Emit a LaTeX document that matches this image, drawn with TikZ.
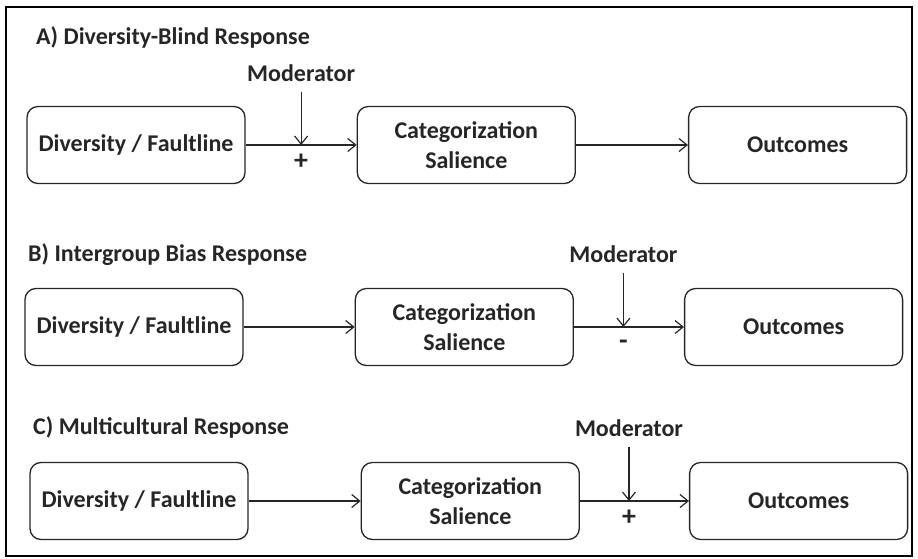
\documentclass[tikz,border=0pt]{standalone}
\usepackage{fontspec}
\setmainfont{Carlito}
\usepackage{tikz}
\usetikzlibrary{arrows.meta,positioning,calc}

\begin{document}
\begin{tikzpicture}[
  x=1pt, y=-1pt,
  box/.style={draw=black!85,line width=1.3pt,rounded corners=11pt,minimum width=218pt,minimum height=77pt,
    align=center,text=black!85,font=\fontsize{24}{30}\selectfont\bfseries},
  title/.style={anchor=west,inner sep=0pt,text=black!85,font=\fontsize{24}{30}\selectfont\bfseries},
  modlbl/.style={anchor=south,inner sep=2pt,text=black!85,font=\fontsize{24}{30}\selectfont\bfseries},
  sign/.style={inner sep=0pt,text=black!85,font=\fontsize{28}{30}\selectfont\bfseries},
  link/.style={-{Straight Barb[length=8pt,width=13pt]},line width=1.2pt,draw=black!85},
  modlink/.style={link,shorten <=8pt},
  frame/.style={draw=black,line width=2pt}
]
  \useasboundingbox (0,0) rectangle (918,559);
  \draw[frame] (6,7) rectangle (912,556);

  % A) diversity-blind
  \node[title] (ttlA) at (36,37) {A) Diversity-Blind Response};
  \node[box] (divA) at (136,145) {Diversity / Faultline};
  \node[box, right=111pt of divA] (catA) {Categorization\\Salience};
  \node[box, right=112pt of catA] (outA) {Outcomes};
  \coordinate (jA) at ($(divA.east)!0.5!(catA.west)$);
  \node[modlbl, above=61pt of jA] (modA) {Moderator};
  \node[sign, below=9pt of jA] (sgnA) {+};
  \draw[link] (divA) -- (catA);
  \draw[link] (catA) -- (outA);
  \draw[modlink] (modA) -- (jA);

  % B) intergroup bias
  \node[title] (ttlB) at (28,255) {B) Intergroup Bias Response};
  \node[box] (divB) at (134,327) {Diversity / Faultline};
  \node[box, right=111pt of divB] (catB) {Categorization\\Salience};
  \node[box, right=110pt of catB] (outB) {Outcomes};
  \coordinate (jB) at ($(catB.east)!0.45!(outB.west)$);
  \node[modlbl, above=62pt of jB] (modB) {Moderator};
  \node[sign, below=13pt of jB] (sgnB) {-};
  \draw[link] (divB) -- (catB);
  \draw[link] (catB) -- (outB);
  \draw[modlink] (modB) -- (jB);

  % C) multicultural
  \node[title] (ttlC) at (33,427) {C) Multicultural Response};
  \node[box] (divC) at (139,501) {Diversity / Faultline};
  \node[box, right=112pt of divC] (catC) {Categorization\\Salience};
  \node[box, right=109pt of catC] (outC) {Outcomes};
  \coordinate (jC) at ($(catC.east)!0.45!(outC.west)$);
  \node[modlbl, above=62pt of jC] (modC) {Moderator};
  \node[sign, below=9pt of jC] (sgnC) {+};
  \draw[link] (divC) -- (catC);
  \draw[link] (catC) -- (outC);
  \draw[modlink] (modC) -- (jC);
\end{tikzpicture}
\end{document}
